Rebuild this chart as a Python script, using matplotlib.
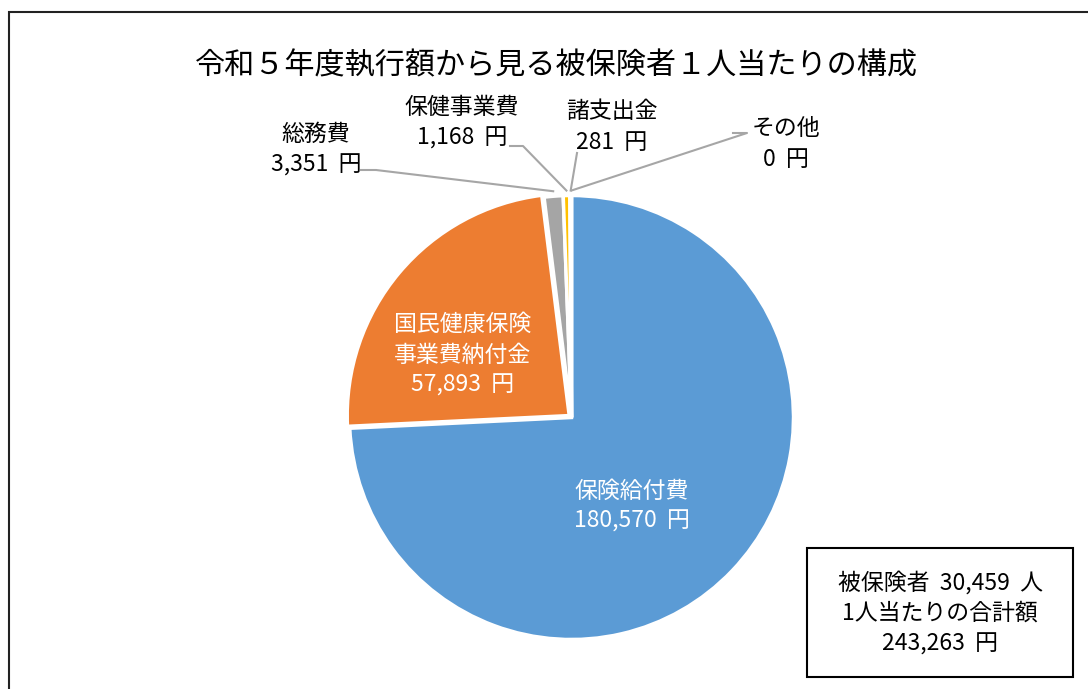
import numpy as np
import matplotlib.pyplot as plt
from matplotlib.patches import Rectangle

plt.rcParams['font.family'] = ['Noto Sans CJK JP', 'DejaVu Sans']

title = '令和５年度執行額から見る被保険者１人当たりの構成'
names = ['保険給付費', '国民健康保険\n事業費納付金', '総務費', '保健事業費', '諸支出金', 'その他']
values = [180570, 57893, 3351, 1168, 281, 0]
colors = ['#5B9BD5', '#ED7D31', '#A5A5A5', '#FFC000', '#4472C4', '#70AD47']
insured = 30459
total = 243263

W, H = 1088, 689
fig = plt.figure(figsize=(W / 100, H / 100), dpi=100)
ax = fig.add_axes([0, 0, 1, 1])

def Y(y):
    return H - y

cx, cy, r = 571.5, Y(417.5), 222
wedges, _ = ax.pie(values, colors=colors, startangle=90, counterclock=False,
                   center=(cx, cy), radius=r, explode=[0, 3, 0, 0, 0, 0],
                   wedgeprops=dict(edgecolor='white', linewidth=2.5))
ax.set_xlim(0, W)
ax.set_ylim(0, H)
ax.set_aspect('auto')
ax.axis('off')

# frame of the chart area (cut off at right and bottom)
ax.add_patch(Rectangle((9, Y(700)), 1200, 700 - 12, fill=False,
                       edgecolor='#222222', linewidth=1.5, clip_on=True))

ax.text(556, Y(66), title, ha='center', va='center', fontsize=21.7)

fs = 16.5

def fmt(v):
    return f'{v:,}  円'

# labels inside the two big slices
ax.text(632, Y(506), names[0] + '\n' + fmt(values[0]), ha='center', va='center',
        color='white', fontsize=fs, linespacing=1.4)
ax.text(463, Y(355), names[1] + '\n' + fmt(values[1]), ha='center', va='center',
        color='white', fontsize=fs, linespacing=1.4)

# outside labels with leader lines: (text center, line start, elbow)
outside = {
    2: ((316, 150), (361, 170), (376, 170)),
    3: ((462, 123), (510, 146), (523, 146)),
    4: ((612, 127), (577, 153), (577, 153)),
    5: ((786, 144), (733, 133), (747, 133)),
}
cum = np.cumsum([0] + values) / sum(values)
for i, (tpos, p0, p1) in outside.items():
    ax.text(tpos[0], Y(tpos[1]), names[i] + '\n' + fmt(values[i]), ha='center',
            va='center', fontsize=fs, linespacing=1.4)
    mid = (cum[i] + cum[i + 1]) / 2 * 2 * np.pi
    ex = cx + (r + 5) * np.sin(mid)
    ey = cy + (r + 5) * np.cos(mid)
    ax.plot([p0[0], p1[0], ex], [Y(p0[1]), Y(p1[1]), ey], color='#A6A6A6', lw=1.5)

# summary box
ax.add_patch(Rectangle((807, Y(677)), 1073 - 807, 677 - 548, fill=False,
                       edgecolor='black', linewidth=1.5))
ax.text(940, Y(613), f'被保険者  {insured:,}  人\n1人当たりの合計額\n{total:,}  円',
        ha='center', va='center', fontsize=fs, linespacing=1.4)

fig.savefig('out.png', dpi=100, facecolor='white')
